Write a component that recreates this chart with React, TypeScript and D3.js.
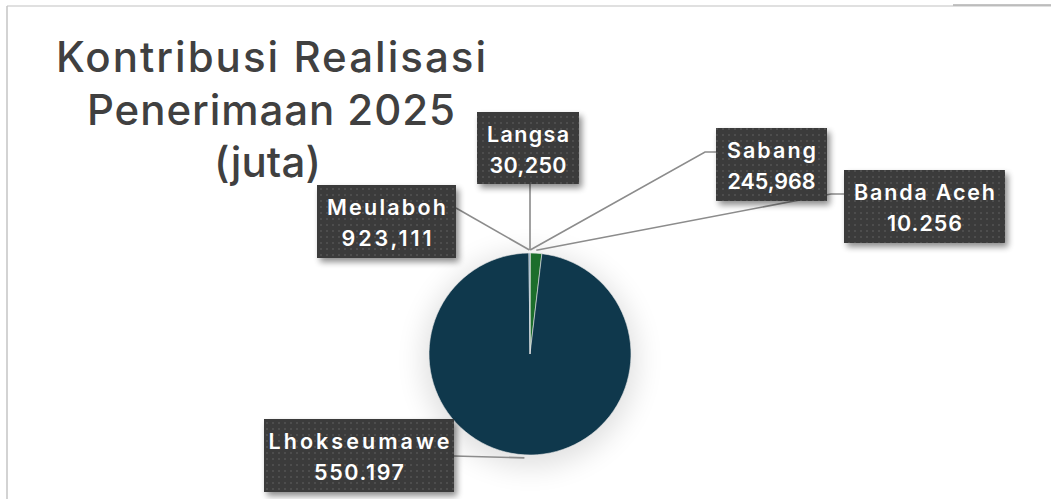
import React from "react";
import * as d3 from "d3";

const categories = ["Langsa", "Sabang", "Banda Aceh", "Lhokseumawe", "Meulaboh"];
const values = [30.25, 245.968, 10256, 550197, 923.111];
const valueLabels = ["30,250", "245,968", "10.256", "550.197", "923,111"];
const colors = ["#1f4e79", "#4a7a3a", "#1c6e2b", "#0f384c", "#5b8db8"];
const titleLines = ["Kontribusi Realisasi", "Penerimaan 2025", "(juta)"];

// title layout: left x, baseline y and rendered width per line
const titleLayout = [
  { x: 56, y: 72, w: 430 },
  { x: 87, y: 125, w: 368 },
  { x: 214, y: 177, w: 107 },
];

// label box layout (x, y, w, h), leader anchor, elbow, text widths
const boxes = [
  { x: 477, y: 112, w: 102, h: 72, ax: 530, ay: 184, elbow: null, tw: [82, 77] },
  { x: 716, y: 128, w: 111, h: 73, ax: 716, ay: 152, elbow: [705, 152], tw: [89, 88] },
  { x: 844, y: 170, w: 161, h: 73, ax: 844, ay: 194, elbow: [831, 194], tw: [141, 75] },
  { x: 264, y: 419, w: 190, h: 73, ax: 454, ay: 456, elbow: null, tw: [181, 90] },
  { x: 317, y: 185, w: 139, h: 73, ax: 456, ay: 208, elbow: null, tw: [119, 90] },
];

const W = 1051;
const H = 499;
const cx = 530;
const cy = 354;
const R = 101;

export default function App() {
  const pie = d3.pie<number>().sort(null).value((d) => d);
  const arcs = pie(values);
  const arc = d3.arc<d3.PieArcDatum<number>>().innerRadius(0).outerRadius(R);
  const outer = d3.arc<d3.PieArcDatum<number>>().innerRadius(R + 3).outerRadius(R + 3);
  const font = "Inter, 'Open Sans', sans-serif";
  return (
    <svg width={W} height={H} style={{ position: "absolute", left: 0, top: 0, background: "#fff" }}>
      <defs>
        <pattern id="dots" width="6" height="6" patternUnits="userSpaceOnUse">
          <rect width="6" height="6" fill="#3b3b3b" />
          <rect x="2" y="2" width="2" height="2" fill="#4d4d4d" />
        </pattern>
        <filter id="shadow" x="-20%" y="-20%" width="150%" height="160%">
          <feGaussianBlur in="SourceAlpha" stdDeviation="3" />
          <feOffset dx="3" dy="4" result="b" />
          <feComponentTransfer><feFuncA type="linear" slope="0.45" /></feComponentTransfer>
          <feMerge><feMergeNode /><feMergeNode in="SourceGraphic" /></feMerge>
        </filter>
        <filter id="glow" x="-50%" y="-50%" width="200%" height="200%">
          <feGaussianBlur stdDeviation="14" />
        </filter>
      </defs>
      <line x1={7} y1={6} x2={W} y2={6} stroke="#d6d6d6" strokeWidth={1.5} />
      <line x1={953} y1={5} x2={W} y2={5} stroke="#b0b0b0" strokeWidth={1.5} />
      <line x1={7} y1={6} x2={7} y2={H} stroke="#c4c4c4" strokeWidth={1.5} />

      <g fill="#404040" fontFamily={font} fontSize={42} fontWeight={500}>
        {titleLines.map((t, i) => (
          <text key={t} x={titleLayout[i].x} y={titleLayout[i].y} textLength={titleLayout[i].w} lengthAdjust="spacing">{t}</text>
        ))}
      </g>

      <circle cx={cx} cy={cy + 6} r={R + 6} fill="#000" opacity={0.12} filter="url(#glow)" />
      <g transform={`translate(${cx},${cy})`}>
        {arcs.map((a, i) => (
          <path key={categories[i]} d={arc(a) || ""} fill={colors[i]} stroke="#e8e8e8" strokeWidth={0.6} />
        ))}
      </g>

      <g stroke="#8c8c8c" strokeWidth={1.6} fill="none">
        {arcs.map((a, i) => {
          const [px, py] = outer.centroid(a);
          const b = boxes[i];
          const pts = [[b.ax, b.ay], ...(b.elbow ? [b.elbow] : []), [cx + px, cy + py]];
          return <polyline key={categories[i]} points={pts.map((p) => p.join(",")).join(" ")} />;
        })}
      </g>

      {categories.map((c, i) => {
        const b = boxes[i];
        return (
          <g key={c}>
            <rect x={b.x} y={b.y} width={b.w} height={b.h} fill="url(#dots)" filter="url(#shadow)" />
            <g fill="#fff" fontFamily={font} fontSize={21.5} fontWeight={600}>
              <text x={b.x + (b.w - b.tw[0]) / 2} y={b.y + 30} textLength={b.tw[0]} lengthAdjust="spacing">{c}</text>
              <text x={b.x + (b.w - b.tw[1]) / 2} y={b.y + 61} textLength={b.tw[1]} lengthAdjust="spacing">{valueLabels[i]}</text>
            </g>
          </g>
        );
      })}
    </svg>
  );
}
